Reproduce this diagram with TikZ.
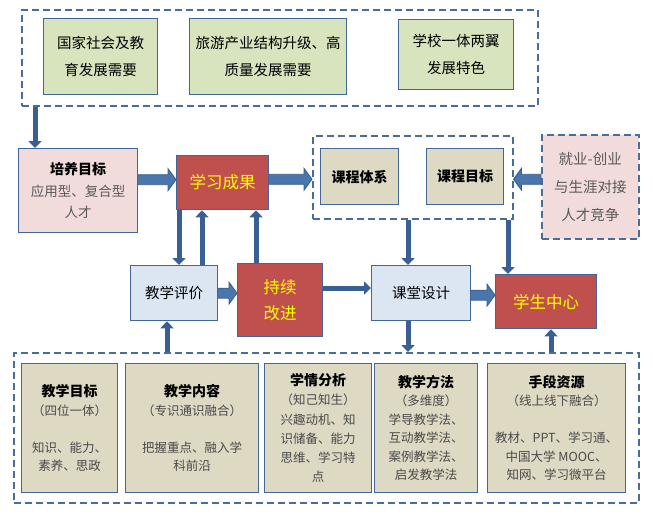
\documentclass[tikz,border=0pt]{standalone}
\usepackage{fontspec}
\setmainfont{Noto Sans CJK SC}
\usetikzlibrary{arrows.meta,calc}
\definecolor{bordc}{HTML}{41679A}
\definecolor{dashc}{HTML}{4A6C9B}
\definecolor{arrc}{HTML}{3A5F95}
\definecolor{blkfill}{HTML}{4A76AE}
\definecolor{blkdraw}{HTML}{385D8A}
\definecolor{greenf}{HTML}{D7E4BD}
\definecolor{pinkf}{HTML}{F2DCDB}
\definecolor{redf}{HTML}{C0504D}
\definecolor{tanf}{HTML}{DDD9C3}
\definecolor{bluef}{HTML}{DCE6F2}
\definecolor{yellowt}{HTML}{FFFF00}
\definecolor{grayt}{HTML}{595959}
\definecolor{grayb}{HTML}{4A4A4A}
\newcommand\barr[2]{\path[blk] let \p1=(#1), \p2=(#2), \n1={sign(\x2-\x1)} in
  ({\x1},{\y2+5pt}) -- ({\x2-\n1*8pt},{\y2+5pt}) -- ({\x2-\n1*8pt},{\y2+11pt}) --
  ({\x2},{\y2}) -- ({\x2-\n1*8pt},{\y2-11pt}) -- ({\x2-\n1*8pt},{\y2-5pt}) --
  ({\x1},{\y2-5pt}) -- cycle;}
\newcommand\tb[1]{{\fontsize{14}{18.5}\selectfont\bfseries\color{black}#1}}
\begin{document}
\begin{tikzpicture}[x=1pt,y=-1pt,
  bx/.style={draw=bordc, line width=1.3pt, inner sep=0pt, align=center, anchor=north west},
  dbox/.style={draw=dashc, line width=1.5pt, dash pattern=on 7pt off 4pt, inner sep=0pt, anchor=north west},
  gbox/.style={bx, fill=greenf, font=\fontsize{14.5}{27}\selectfont},
  tbox/.style={bx, fill=tanf, font=\fontsize{14}{20}\selectfont\bfseries},
  bbox/.style={bx, fill=bluef, font=\fontsize{14.5}{20}\selectfont},
  rbox/.style={bx, fill=redf, text=yellowt, font=\fontsize{16.5}{26}\selectfont},
  lbox/.style={bx, fill=tanf, text=grayb, font=\fontsize{12.5}{18.5}\selectfont},
  tarr/.style={draw=arrc, line width=5pt, -{Triangle[length=7pt,width=13pt]}, arrc},
  blk/.style={fill=blkfill, draw=blkdraw, line width=0.8pt}]
\useasboundingbox (0,0) rectangle (653,523);
% top group
\node[dbox, minimum width=516pt, minimum height=96pt] (td) at (21,9) {};
\node[gbox, minimum width=114pt, minimum height=76pt] (g1) at (43,18) {国家社会及教\\育发展需要};
\node[gbox, minimum width=157pt, minimum height=76pt] (g2) at (189,18) {旅游产业结构升级、高\\质量发展需要};
\node[gbox, minimum width=115pt, minimum height=70pt] (g3) at (398,19) {学校一体两翼\\发展特色};
% middle row
\node[bx, fill=pinkf, text=grayt, font=\fontsize{13.5}{21.5}\selectfont, minimum width=119pt, minimum height=84pt] (pe) at (18,148) {\tb{培养目标}\\应用型、复合型\\人才};
\node[rbox, minimum width=92pt, minimum height=54pt] (xc) at (176,155) {学习成果};
\node[dbox, minimum width=200pt, minimum height=83pt] (cd) at (312,135) {};
\node[tbox, minimum width=78pt, minimum height=56pt] (kt) at (320,148) {课程体系};
\node[tbox, minimum width=77pt, minimum height=56pt] (km) at (426,148) {课程目标};
\node[dbox, fill=pinkf, text=grayt, align=center, font=\fontsize{14.5}{28}\selectfont, minimum width=97pt, minimum height=104pt] (jy) at (541,134) {就业-创业\\与生涯对接\\人才竞争};
\node[bbox, minimum width=87pt, minimum height=55pt] (pj) at (130,265) {教学评价};
\node[rbox, minimum width=85pt, minimum height=73pt] (cx) at (237,263) {持续\\改进};
\node[bbox, minimum width=99pt, minimum height=55pt] (kd) at (371,265) {课堂设计};
\node[rbox, minimum width=101pt, minimum height=54pt] (xs) at (495,274) {学生中心};
% bottom group
\node[dbox, minimum width=625pt, minimum height=150pt] (bd) at (13,352) {};
\node[lbox, minimum width=96pt, minimum height=129pt] (b1) at (21,363) {\tb{教学目标}\\（四位一体）\\[18.5pt]知识、能力、\\素养、思政};
\node[lbox, minimum width=133pt, minimum height=129pt] (b2) at (125,363) {\tb{教学内容}\\（专识通识融合）\\[18.5pt]把握重点、融入学\\科前沿};
\node[lbox, minimum width=107pt, minimum height=129pt, font=\fontsize{12.5}{19.2}\selectfont] (b3) at (264,363) {\tb{学情分析}\\（知己知生）\\兴趣动机、知\\识储备、能力\\思维、学习特\\点};
\node[lbox, minimum width=103pt, minimum height=129pt] (b4) at (374,363) {\tb{教学方法}\\（多维度）\\学导教学法、\\互动教学法、\\案例教学法、\\启发教学法};
\node[lbox, minimum width=138pt, minimum height=129pt] (b5) at (487,363) {\tb{手段资源}\\（线上线下融合）\\[18.5pt]教材、PPT、学习通、\\中国大学 MOOC、\\知网、学习微平台};
% thin arrows
\draw[tarr] ($(td.south west)+(14,0)$) -- ($(pe.north west)+(17,0)$);
\draw[tarr] ($(xc.south west)+(3,0)$) -- ($(pj.north west)+(49,0)$);
\draw[tarr] ($(pj.north west)+(72,0)$) -- ($(xc.south west)+(26,0)$);
\draw[tarr] ($(cx.north west)+(19,0)$) -- ($(xc.south west)+(80,0)$);
\draw[tarr] ($(bd.north west)+(154,0)$) -- ($(pj.south west)+(37,0)$);
\draw[tarr] ($(cd.south west)+(96,0)$) -- ($(kd.north west)+(37,0)$);
\draw[tarr] ($(cd.south west)+(196,0)$) -- ($(xs.north west)+(13,0)$);
\draw[tarr] ($(kd.south west)+(37,0)$) -- ($(bd.north west)+(395,0)$);
\draw[tarr] ($(bd.north west)+(538,0)$) -- ($(xs.south west)+(56,0)$);
\draw[tarr] ($(cx.north east)+(0,25)$) -- ($(kd.north west)+(0,23)$);
% block arrows
\barr{pe.east}{$(xc.west)+(0,-3)$}
\barr{xc.east}{$(cd.west)+(0,2)$}
\barr{jy.west}{$(cd.east)+(0,2)$}
\barr{pj.east}{cx.west |- pj.east}
\barr{kd.east}{$(xs.west |- kd.east)+(0,2)$}
\end{tikzpicture}
\end{document}
